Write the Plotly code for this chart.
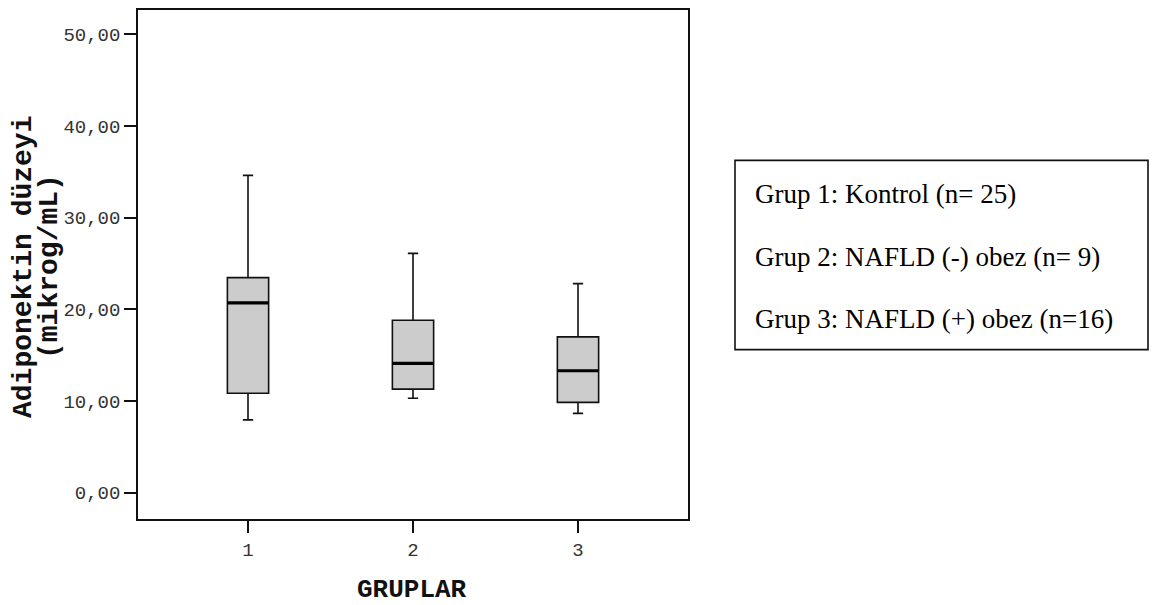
import plotly.graph_objects as go

# ---- data ----
groups = [1, 2, 3]
upper_whisker = [34.6, 26.1, 22.8]
q3 = [23.45, 18.8, 17.0]
median = [20.7, 14.1, 13.3]
q1 = [10.85, 11.3, 9.85]
lower_whisker = [7.95, 10.3, 8.65]
y_ticks = [0, 10, 20, 30, 40, 50]
legend_lines = [
    "Grup 1: Kontrol (n= 25)",
    "Grup 2: NAFLD (-) obez (n= 9)",
    "Grup 3: NAFLD (+) obez (n=16)",
]
y_title_lines = ["Adiponektin düzeyi", "(mikrog/mL)"]
x_title = "GRUPLAR"

# ---- layout geometry (page pixels; the page body has an 8px margin) ----
OFF = 8
W, H = 1158 - OFF, 605 - OFF
L, R, T, B = 138, 688, 8, 519   # plot area in page pixels
BOX_W = 0.25


def px_x(p):
    return (p - L) / (R - L)


def py(p):
    return (B - p) / (B - T)


fig = go.Figure()

fig.add_trace(go.Box(
    x=groups,
    q1=q1, median=median, q3=q3,
    lowerfence=lower_whisker, upperfence=upper_whisker,
    width=BOX_W,
    whiskerwidth=0.25,
    fillcolor="#cccccc",
    line=dict(color="#111111", width=1.6),
    boxpoints=False,
    showlegend=False,
    hoverinfo="skip",
))

# thicker median lines
mx, my = [], []
for g, m in zip(groups, median):
    mx += [g - BOX_W / 2, g + BOX_W / 2, None]
    my += [m, m, None]
fig.add_trace(go.Scatter(
    x=mx, y=my, mode="lines",
    line=dict(color="#000000", width=3.2),
    showlegend=False, hoverinfo="skip",
))

mono = "Liberation Mono, Courier New, monospace"
serif = "Liberation Serif, Times New Roman, serif"

fig.update_layout(
    width=W, height=H,
    margin=dict(l=L - OFF, r=W - (R - OFF), t=T - OFF, b=H - (B - OFF), pad=0),
    paper_bgcolor="white",
    plot_bgcolor="white",
    separators=",.",
    xaxis=dict(
        range=[1 - 110 / 165, 3 + 110 / 165],
        tickvals=groups,
        ticktext=[str(g) for g in groups],
        ticks="outside", ticklen=12, tickwidth=1.5, tickcolor="#111111",
        tickfont=dict(family=mono, size=19, color="#333333"),
        showline=True, linecolor="#111111", linewidth=1.6, mirror=True,
        showgrid=False, zeroline=False,
    ),
    yaxis=dict(
        range=[-2.86, 52.63],
        tickvals=y_ticks,
        tickformat=".2f",
        ticks="outside", ticklen=12, tickwidth=1.5, tickcolor="#111111",
        tickfont=dict(family=mono, size=19, color="#333333"),
        showline=True, linecolor="#111111", linewidth=1.6, mirror=True,
        showgrid=False, zeroline=False,
    ),
)

# y-axis title (two rotated lines)
for txt, xc in zip(y_title_lines, [24, 50]):
    fig.add_annotation(
        x=px_x(xc), y=py(266), xref="paper", yref="paper",
        text=txt, textangle=-90, showarrow=False,
        xanchor="center", yanchor="middle",
        font=dict(family=mono, size=28, color="#111111", weight="bold"),
    )

# x-axis title
fig.add_annotation(
    x=px_x(412), y=py(590), xref="paper", yref="paper",
    text=x_title, showarrow=False,
    xanchor="center", yanchor="middle",
    font=dict(family=mono, size=26, color="#111111", weight="bold"),
)

# legend box
fig.add_shape(
    type="rect", xref="paper", yref="paper",
    x0=px_x(735), x1=px_x(1148), y0=py(349), y1=py(159),
    line=dict(color="#111111", width=1.6), fillcolor="rgba(0,0,0,0)",
)
for line_text, yc in zip(legend_lines, [193, 256, 318]):
    fig.add_annotation(
        x=px_x(753), y=py(yc), xref="paper", yref="paper",
        text=line_text, showarrow=False,
        xanchor="left", yanchor="middle",
        font=dict(family=serif, size=27, color="#000000"),
    )

fig.write_html("out.html")
